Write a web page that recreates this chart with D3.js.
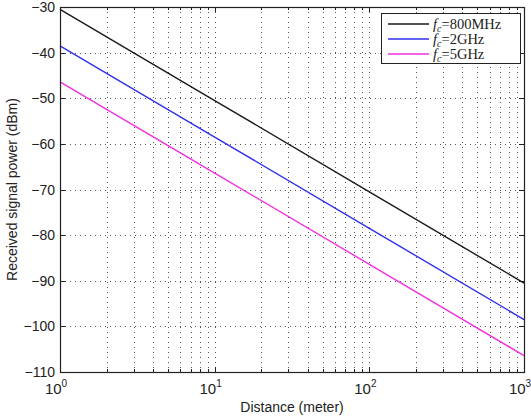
<!doctype html>
<html lang="en">
<head>
<meta charset="UTF-8" />
<title>Received signal power vs distance</title>
<script src="https://cdn.jsdelivr.net/npm/d3@7"></script>
<style>
  body { margin: 0; background: #fff; }
  svg text { font-family: "Liberation Sans", Arial, sans-serif; fill: #222; }
</style>
</head>
<body>
<svg id="chart" width="531" height="418"></svg>
<script>
// values
const distances = [1, 10, 100, 1000];
const power800MHz = [-30.5, -50.5, -70.5, -90.5];
const power2GHz = [-38.5, -58.5, -78.5, -98.5];
const power5GHz = [-46.4, -66.4, -86.4, -106.4];
const seriesNames = ["=800MHz", "=2GHz", "=5GHz"];
const seriesColors = ["#1a1a1a", "#3030ee", "#f030e0"];
const yTicks = [-110, -100, -90, -80, -70, -60, -50, -40, -30];
const xMajor = [1, 10, 100, 1000];

const series = [power800MHz, power2GHz, power5GHz].map((vals, i) => ({
  name: seriesNames[i],
  color: seriesColors[i],
  points: distances.map((d, j) => ({ d: d, p: vals[j] }))
}));

const m = { left: 60, top: 7, right: 524, bottom: 372 };
const svg = d3.select("#chart");

const x = d3.scaleLog().domain([1, 1000]).range([m.left, m.right]);
const y = d3.scaleLinear().domain([-110, -30]).range([m.bottom, m.top]);

// minor positions on the log axis
const xMinor = [];
[1, 10, 100].forEach(dec => { for (let k = 2; k <= 9; k++) xMinor.push(dec * k); });
const xGrid = xMinor.concat([10, 100]);

// dotted grid
const grid = svg.append("g").attr("stroke", "#555").attr("stroke-width", 1)
  .attr("stroke-dasharray", "1,4");
grid.selectAll(".gx").data(xGrid).join("line")
  .attr("x1", d => Math.round(x(d)) + 0.5).attr("x2", d => Math.round(x(d)) + 0.5)
  .attr("y1", m.top).attr("y2", m.bottom);
grid.selectAll(".gy").data(yTicks.slice(1, -1)).join("line")
  .attr("x1", m.left).attr("x2", m.right)
  .attr("y1", d => Math.round(y(d)) + 0.5).attr("y2", d => Math.round(y(d)) + 0.5);

// inward ticks on all four sides
const ticks = svg.append("g").attr("stroke", "#222").attr("stroke-width", 1);
xMajor.forEach(d => {
  const px = Math.round(x(d)) + 0.5;
  ticks.append("line").attr("x1", px).attr("x2", px).attr("y1", m.bottom).attr("y2", m.bottom - 5);
  ticks.append("line").attr("x1", px).attr("x2", px).attr("y1", m.top).attr("y2", m.top + 5);
});
xMinor.forEach(d => {
  const px = Math.round(x(d)) + 0.5;
  ticks.append("line").attr("x1", px).attr("x2", px).attr("y1", m.bottom).attr("y2", m.bottom - 3);
  ticks.append("line").attr("x1", px).attr("x2", px).attr("y1", m.top).attr("y2", m.top + 3);
});
yTicks.forEach(d => {
  const py = Math.round(y(d)) + 0.5;
  ticks.append("line").attr("x1", m.left).attr("x2", m.left + 5).attr("y1", py).attr("y2", py);
  ticks.append("line").attr("x1", m.right).attr("x2", m.right - 5).attr("y1", py).attr("y2", py);
});

// lines
const line = d3.line().x(d => x(d.d)).y(d => y(d.p));
svg.append("g").selectAll("path").data(series).join("path")
  .attr("d", s => line(s.points))
  .attr("fill", "none")
  .attr("stroke", s => s.color)
  .attr("stroke-width", 1.4);

// frame
svg.append("rect")
  .attr("x", m.left + 0.5).attr("y", m.top + 0.5)
  .attr("width", m.right - m.left).attr("height", m.bottom - m.top)
  .attr("fill", "none").attr("stroke", "#222").attr("stroke-width", 1.2);

// y tick labels
svg.append("g").selectAll("text").data(yTicks).join("text")
  .attr("x", m.left - 5).attr("y", d => y(d) + 5)
  .attr("text-anchor", "end").attr("font-size", 14)
  .text(d => d3.format("")(d).replace("-", "\u2212"));

// x tick labels 10^n
const xl = svg.append("g").selectAll("text").data(xMajor).join("text")
  .attr("x", d => x(d) - 4).attr("y", 394)
  .attr("text-anchor", "middle").attr("font-size", 15);
xl.append("tspan").text("10");
xl.append("tspan").attr("dy", -7).attr("font-size", 10).text(d => Math.round(Math.log10(d)));

// axis titles
svg.append("text").attr("x", (m.left + m.right) / 2).attr("y", 412)
  .attr("text-anchor", "middle").attr("font-size", 14).text("Distance (meter)");
svg.append("text")
  .attr("transform", `translate(17,${(m.top + m.bottom) / 2}) rotate(-90)`)
  .attr("text-anchor", "middle").attr("font-size", 14).text("Received signal power (dBm)");

// legend
const lg = svg.append("g");
lg.append("rect").attr("x", 381.5).attr("y", 13.5).attr("width", 139).attr("height", 50)
  .attr("fill", "#fff").attr("stroke", "#222").attr("stroke-width", 1);
series.forEach((s, i) => {
  const ly = 24 + i * 15;
  lg.append("line").attr("x1", 388).attr("x2", 429).attr("y1", ly).attr("y2", ly)
    .attr("stroke", s.color).attr("stroke-width", 1.6);
  const t = lg.append("text").attr("x", 433).attr("y", ly + 5)
    .attr("font-size", 14.5).style("font-family", "'Liberation Serif', 'DejaVu Serif', serif");
  t.append("tspan").attr("font-style", "italic").text("f");
  t.append("tspan").attr("font-style", "italic").attr("font-size", 10).attr("dy", 3).text("c");
  t.append("tspan").attr("dy", -3).text(s.name);
});
</script>
</body>
</html>
